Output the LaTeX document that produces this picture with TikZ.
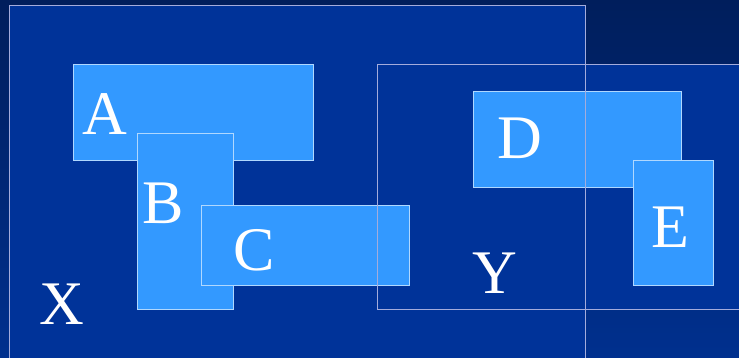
\documentclass[tikz,border=0pt]{standalone}
\usepackage{fontspec}
\setmainfont{Liberation Serif}
\usetikzlibrary{positioning}
\definecolor{bgtop}{HTML}{001E5C}
\definecolor{bgbot}{HTML}{00308E}
\definecolor{deep}{HTML}{003399}
\definecolor{lite}{HTML}{3399FF}
\definecolor{boxedge}{HTML}{B0D8FF}
\definecolor{frameedge}{HTML}{A4ACDC}
\tikzset{box/.style={draw=boxedge,fill=lite,line width=1.3pt,inner sep=0pt,anchor=north west},
  area/.style={fill=deep,inner sep=0pt,anchor=north west},
  frame/.style={draw=frameedge,line width=1.3pt,inner sep=0pt,anchor=north west},
  tag/.style={text=white,inner sep=0pt,font=\fontsize{62}{62}\selectfont}}

\begin{document}
\begin{tikzpicture}[x=1pt,y=-1pt]
\useasboundingbox (0,0) rectangle (739,357);
\clip (0,0) rectangle (739,357);
\fill[top color=bgtop,bottom color=bgbot] (0,0) rectangle (739,357);
% the two large regions
\node[area,minimum width=576,minimum height=370] (xa) at (9,5) {};
\node[area,minimum width=380,minimum height=245] (ya) at (377,64) {};
% the light boxes
\node[box,minimum width=240,minimum height=96] (a) at (73,64) {};
\node[box,minimum width=96,minimum height=176] (b) at (137,133) {};
\node[box,minimum width=208,minimum height=80] (c) at (201,205) {};
\node[box,minimum width=208,minimum height=96] (d) at (473,91) {};
\node[box,minimum width=80,minimum height=125] (e) at (633,160) {};
% outlines of the regions on top
\node[frame,minimum width=576,minimum height=370] (xf) at (9,5) {};
\node[frame,minimum width=380,minimum height=245] (yf) at (377,64) {};
% labels
\node[tag] (la) at (105,114) {A};
\node[tag] (lb) at (163,203) {B};
\node[tag] (lc) at (254,250) {C};
\node[tag] (ld) at (520,138) {D};
\node[tag] (le) at (670,227) {E};
\node[tag] (lx) at (62,304) {X};
\node[tag] (ly) at (495,273) {Y};
\end{tikzpicture}
\end{document}
